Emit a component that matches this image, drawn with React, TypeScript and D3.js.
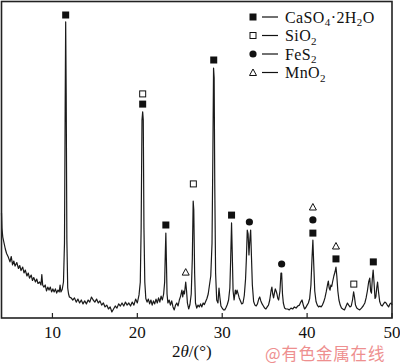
import React from "react";
import * as d3 from "d3";

const twoTheta = [
  4.0, 4.05, 4.15, 4.3, 4.45, 4.6, 4.8, 5.0, 5.15, 5.3, 5.45, 5.6, 5.8, 6.0, 6.15, 6.3, 6.5, 6.65, 6.8, 7.0,
  7.15, 7.3, 7.5, 7.65, 7.8, 8.0, 8.15, 8.3, 8.5, 8.65, 8.75, 8.85, 9.0, 9.15, 9.3, 9.45, 9.6, 9.75, 9.9, 10.05,
  10.2, 10.35, 10.5, 10.65, 10.8, 10.9, 11.0, 11.15, 11.3, 11.42, 11.5, 11.56, 11.62, 11.7, 11.8, 11.9, 12.0,
  12.2, 12.4, 12.6, 12.8, 13.0, 13.2, 13.4, 13.6, 13.8, 14.0, 14.2, 14.4, 14.6, 14.8, 15.0, 15.2, 15.4, 15.6,
  15.8, 16.0, 16.2, 16.4, 16.6, 16.8, 17.0, 17.2, 17.4, 17.6, 17.8, 18.0, 18.2, 18.4, 18.6, 18.8, 19.0, 19.2,
  19.4, 19.6, 19.8, 20.0, 20.2, 20.35, 20.45, 20.55, 20.63, 20.7, 20.78, 20.88, 21.0, 21.15, 21.3, 21.45, 21.6,
  21.75, 21.9, 22.05, 22.2, 22.35, 22.5, 22.65, 22.8, 22.95, 23.1, 23.22, 23.3, 23.36, 23.42, 23.5, 23.6, 23.75,
  23.9, 24.05, 24.2, 24.35, 24.5, 24.65, 24.8, 24.95, 25.1, 25.25, 25.35, 25.45, 25.55, 25.7, 25.8, 25.9, 26.05,
  26.2, 26.35, 26.48, 26.58, 26.65, 26.75, 26.85, 27.0, 27.15, 27.3, 27.45, 27.6, 27.75, 27.9, 28.05, 28.2,
  28.35, 28.5, 28.65, 28.8, 28.9, 28.98, 29.05, 29.12, 29.22, 29.35, 29.5, 29.62, 29.72, 29.85, 30.0, 30.15,
  30.3, 30.45, 30.6, 30.75, 30.9, 31.0, 31.1, 31.18, 31.28, 31.4, 31.55, 31.65, 31.75, 31.85, 32.0, 32.15, 32.3,
  32.45, 32.6, 32.75, 32.85, 32.95, 33.05, 33.15, 33.25, 33.35, 33.45, 33.55, 33.7, 33.85, 34.0, 34.15, 34.3,
  34.42, 34.55, 34.7, 34.85, 35.0, 35.15, 35.3, 35.45, 35.6, 35.75, 35.85, 35.95, 36.05, 36.15, 36.25, 36.35,
  36.45, 36.55, 36.65, 36.8, 36.92, 37.0, 37.1, 37.2, 37.35, 37.5, 37.7, 37.9, 38.1, 38.3, 38.5, 38.7, 38.9,
  39.1, 39.25, 39.4, 39.55, 39.7, 39.85, 40.0, 40.15, 40.3, 40.45, 40.58, 40.68, 40.78, 40.9, 41.05, 41.2, 41.35,
  41.5, 41.65, 41.8, 41.95, 42.1, 42.25, 42.4, 42.5, 42.6, 42.7, 42.8, 42.9, 43.0, 43.15, 43.3, 43.4, 43.5,
  43.62, 43.75, 43.9, 44.05, 44.2, 44.4, 44.6, 44.75, 44.9, 45.05, 45.2, 45.35, 45.48, 45.58, 45.7, 45.85, 46.0,
  46.2, 46.4, 46.6, 46.8, 46.95, 47.1, 47.25, 47.38, 47.48, 47.58, 47.68, 47.78, 47.88, 48.0, 48.1, 48.2, 48.3,
  48.4, 48.55, 48.7, 48.85, 49.0, 49.15, 49.3, 49.45, 49.6, 49.75, 49.9, 50.0,
];

const intensity = [
  35, 30, 27, 25, 23, 21.5, 20.3, 18.7, 20.5, 17.7, 19, 17.3, 18.5, 16.5, 17.5, 15.8, 17, 15, 16, 14,
  15, 13.3, 14.3, 12.5, 13.5, 12, 13, 11.5, 12, 11, 14.5, 11, 10.3, 11, 9, 10.3, 9.3, 10.3, 8.7, 9.7,
  8.7, 9.7, 8.3, 9.3, 8.7, 11, 8.7, 9.5, 12, 25, 70, 98.7, 75, 26, 10, 8, 7,
  6.7, 6, 6.7, 5.3, 6.3, 5, 6, 4.7, 5.7, 4.7, 6, 5.3, 7, 6, 5.3, 6.3, 5, 5.7,
  4.3, 5, 3.7, 4.3, 3, 3.7, 2, 3, 4, 3.3, 4.7, 4, 5, 4, 5.3, 4.3, 5, 4,
  5.3, 4.3, 6.3, 5, 7.7, 12, 30, 66, 68.7, 66, 30, 12, 6.5, 5.3, 6.3, 4.7, 6,
  4.3, 5.7, 4.7, 6.3, 5, 6.7, 5.3, 7.3, 6, 8, 12, 22, 28.3, 20, 8, 5, 6,
  4.3, 5.7, 3.7, 2.7, 4.3, 5, 4, 6, 7.3, 9.3, 7, 9, 8, 12, 9, 5, 3,
  4.5, 8, 20, 39, 36, 15, 5, 3.3, 4.3, 3.7, 4.7, 3.7, 5, 4.5, 5.5, 6.5,
  8, 11, 14, 25, 55, 83.3, 80, 45, 15, 6, 5, 10, 7, 4, 3.3, 2.7,
  2.7, 3.5, 4.5, 6, 10, 20, 31.7, 22, 9, 6, 9.3, 8, 9.3, 8.3, 6.7, 5.7, 4.7,
  5, 7.5, 13, 20, 29.3, 28, 21, 26, 29.3, 20, 11, 5.5, 4.3, 4, 4.7, 6.3,
  7, 5.7, 4.7, 4, 3.3, 3, 3.7, 4.3, 6, 9, 10.3, 8, 6.7, 8.3, 9.7, 9,
  8, 6.5, 6, 9, 15, 15, 8, 5, 3.3, 3, 3, 2.7, 3.3, 3, 3.7, 3.3, 4,
  4.3, 5.3, 6, 4.3, 3, 3.5, 4.3, 5, 6.5, 11, 20, 26, 18, 9, 5.5, 4.3, 3.7,
  4, 3.7, 4.3, 5.3, 6.7, 8.7, 11, 12.3, 10, 9.3, 11, 10.5, 12, 14, 15.5, 17, 14,
  9, 6, 4.3, 3.3, 3, 2.7, 4, 5, 4.3, 3.7, 4, 6, 8.7, 7, 4.3, 3.3, 3,
  2.7, 3.3, 4, 5, 6.7, 9, 12, 13.3, 9, 8.3, 13, 16, 12, 6.5, 7, 10, 12,
  9, 5.5, 4.3, 4, 4.7, 5.3, 5, 4.3, 3.7, 4.7, 5, 4.3,
];

// phase markers: [2θ, marker level]
const gypsumMarks: [number, number][] = [
  [11.56, 101], [20.63, 71.3], [23.36, 31], [29.0, 86], [31.1, 34.3], [40.68, 28.3], [43.4, 19.7], [47.8, 18.7],
];
const quartzMarks: [number, number][] = [[20.63, 74.7], [26.6, 44.7], [45.5, 11.3]];
const pyriteMarks: [number, number][] = [[33.2, 32], [37.0, 18], [40.68, 32.7]];
const mnoMarks: [number, number][] = [[25.7, 15.3], [40.68, 37], [43.4, 24]];

const xTicks = [10, 20, 30, 40, 50];

const legendItems = [
  { kind: "fsq", parts: [["CaSO", 0], ["4", 1], ["·2H", 0], ["2", 1], ["O", 0]] },
  { kind: "osq", parts: [["SiO", 0], ["2", 1]] },
  { kind: "circ", parts: [["FeS", 0], ["2", 1]] },
  { kind: "tri", parts: [["MnO", 0], ["2", 1]] },
];

const FONT = "'Liberation Serif', 'Times New Roman', serif";

function Marker({ kind, x, y }: { kind: string; x: number; y: number }) {
  if (kind === "fsq") return <rect x={x - 3.5} y={y - 3.5} width={7} height={7} fill="#111" />;
  if (kind === "osq")
    return <rect x={x - 3} y={y - 3} width={6} height={6} fill="#fff" stroke="#111" strokeWidth={1} />;
  if (kind === "circ") return <circle cx={x} cy={y} r={3.6} fill="#111" />;
  return (
    <path
      d={`M${x},${y - 3.5}L${x + 3.5},${y + 3}L${x - 3.5},${y + 3}Z`}
      fill="#fff"
      stroke="#111"
      strokeWidth={1}
    />
  );
}

export default function App() {
  const x = d3.scaleLinear().domain([4, 50]).range([1.5, 392]);
  const y = d3.scaleLinear().domain([0, 100]).range([318, 18]);
  const pts: [number, number][] = twoTheta.map((t, i) => [t, intensity[i]]);
  const line = d3
    .line<[number, number]>()
    .x((d) => x(d[0]))
    .y((d) => y(d[1]));

  const groups: [string, [number, number][]][] = [
    ["fsq", gypsumMarks],
    ["osq", quartzMarks],
    ["circ", pyriteMarks],
    ["tri", mnoMarks],
  ];

  return (
    <svg
      width={400}
      height={364}
      style={{ position: "absolute", left: 0, top: 0, background: "#fff" }}
      fontFamily={FONT}
    >
      <rect x={0} y={0} width={400} height={364} fill="#fff" />
      <path d={line(pts) || ""} fill="none" stroke="#1a1a1a" strokeWidth={1.2} strokeLinejoin="round" />
      <rect x={1.5} y={1.5} width={390.5} height={316.5} fill="none" stroke="#222" strokeWidth={1.6} />
      {xTicks.map((t) => (
        <g key={t}>
          <line x1={x(t)} x2={x(t)} y1={318} y2={313} stroke="#222" strokeWidth={1.2} />
          <text x={x(t)} y={338} textAnchor="middle" fontSize={17} fill="#111">
            {t}
          </text>
        </g>
      ))}
      {groups.map(([kind, arr]) =>
        arr.map((m, i) => <Marker key={kind + i} kind={kind} x={x(m[0])} y={y(m[1])} />)
      )}
      {legendItems.map((it, i) => {
        const cy = 17 + i * 18.5;
        return (
          <g key={i}>
            <Marker kind={it.kind} x={253} y={cy} />
            <line x1={262} x2={278} y1={cy} y2={cy} stroke="#111" strokeWidth={1.2} />
            <text x={285} y={cy + 5.5} fontSize={16} letterSpacing={0.4} fill="#111">
              {it.parts.map((p, j) => (
                <tspan
                  key={j}
                  fontSize={p[1] ? 11 : 16}
                  dy={j === 0 ? 0 : p[1] ? 3.5 : (it.parts[j - 1][1] ? -3.5 : 0)}
                >
                  {p[0]}
                </tspan>
              ))}
            </text>
          </g>
        );
      })}
      <text x={172} y={357} fontSize={17} fill="#111">
        2<tspan fontStyle="italic">θ</tspan>/(°)
      </text>
      <text x={265} y={360} fontSize={16.5} letterSpacing={0.8} fill="#ee8f8f" fontFamily="'Noto Sans CJK SC', sans-serif">
        @有色金属在线
      </text>
    </svg>
  );
}
